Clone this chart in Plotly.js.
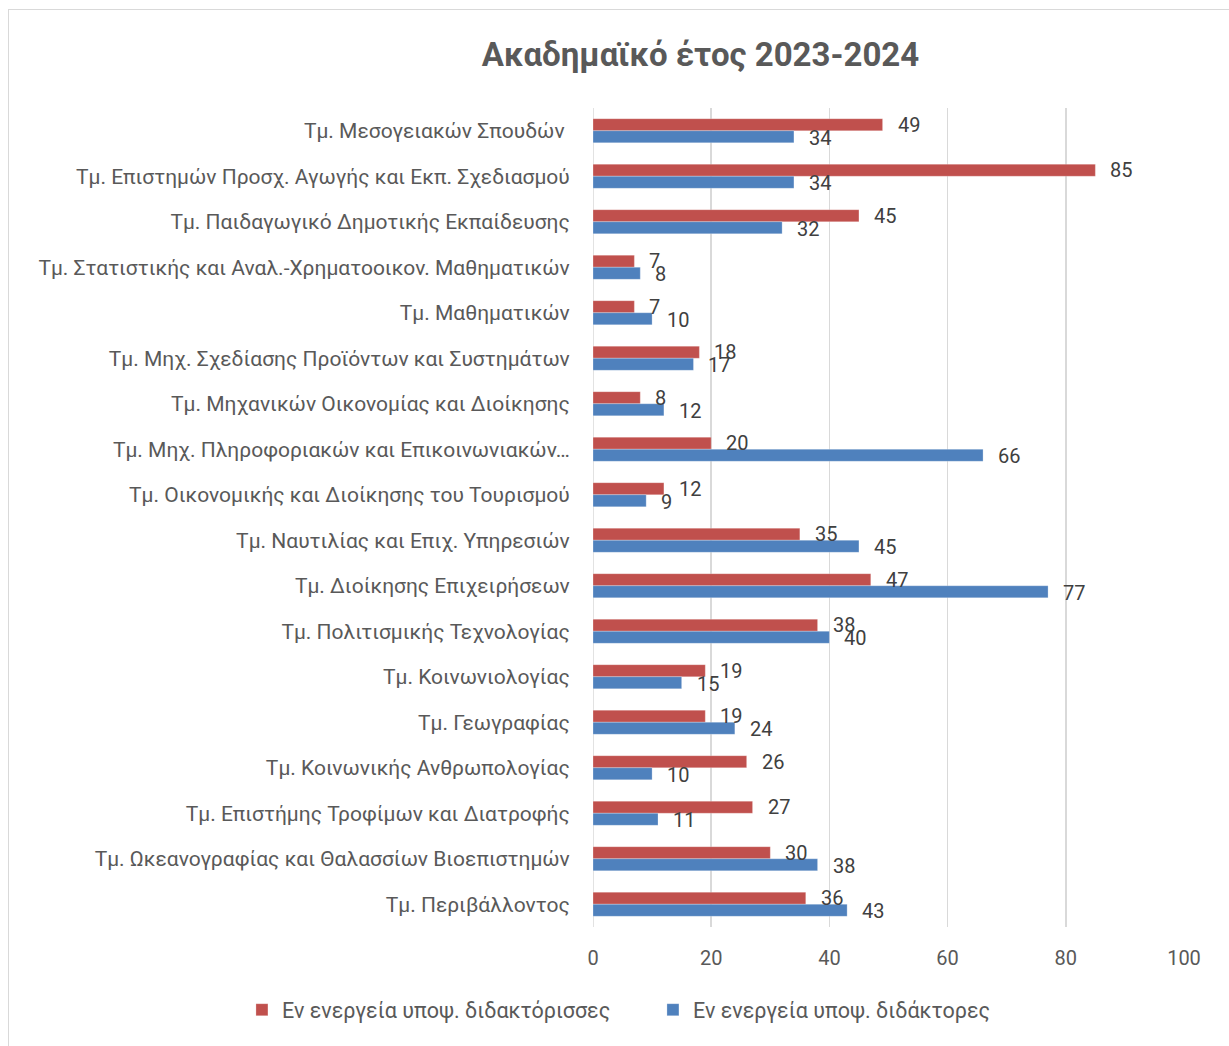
<!DOCTYPE html>
<html>
<head>
<meta charset="utf-8">
<script src="https://cdn.plot.ly/plotly-3.0.1.min.js"></script>
<style>
html,body{margin:0;padding:0;background:#fff;}
#frame{position:absolute;left:8px;top:9px;width:1240px;height:1060px;border:1px solid #d9d9d9;pointer-events:none;z-index:2;}
#chart{position:absolute;left:0;top:0;width:1229px;height:1046px;}
body{overflow:hidden;width:1229px;height:1046px;}
</style>
</head>
<body>
<div id="chart"></div>
<div id="frame"></div>
<script>
const categories = [
  "Τμ. Μεσογειακών Σπουδών\u00a0",
  "Τμ. Επιστημών Προσχ. Αγωγής και Εκπ. Σχεδιασμού",
  "Τμ. Παιδαγωγικό Δημοτικής Εκπαίδευσης",
  "Τμ. Στατιστικής και Αναλ.-Χρηματοοικον. Μαθηματικών",
  "Τμ. Μαθηματικών",
  "Τμ. Μηχ. Σχεδίασης Προϊόντων και Συστημάτων",
  "Τμ. Μηχανικών Οικονομίας και Διοίκησης",
  "Τμ. Μηχ. Πληροφοριακών και Επικοινωνιακών…",
  "Τμ. Οικονομικής και Διοίκησης του Τουρισμού",
  "Τμ. Ναυτιλίας και Επιχ. Υπηρεσιών",
  "Τμ. Διοίκησης Επιχειρήσεων",
  "Τμ. Πολιτισμικής Τεχνολογίας",
  "Τμ. Κοινωνιολογίας",
  "Τμ. Γεωγραφίας",
  "Τμ. Κοινωνικής Ανθρωπολογίας",
  "Τμ. Επιστήμης Τροφίμων και Διατροφής",
  "Τμ. Ωκεανογραφίας και Θαλασσίων Βιοεπιστημών",
  "Τμ. Περιβάλλοντος"
];
const female = [49, 85, 45, 7, 7, 18, 8, 20, 12, 35, 47, 38, 19, 19, 26, 27, 30, 36];
const male   = [34, 34, 32, 8, 10, 17, 12, 66, 9, 45, 77, 40, 15, 24, 10, 11, 38, 43];
const seriesNames = ["Εν ενεργεία υποψ. διδακτόρισσες", "Εν ενεργεία υποψ. διδάκτορες"];
const xTicks = [0, 20, 40, 60, 80, 100];
const chartTitle = "Ακαδημαϊκό έτος 2023-2024";

const FONT = "Roboto, 'Noto Sans', sans-serif";
const GREY = "#595959";
const LABEL = "#404040";
const RED = "#C0504D";
const BLUE = "#4F81BD";

const traces = [
  {type:"bar", orientation:"h", name:seriesNames[0], y:categories, x:female,
   marker:{color:RED, line:{color:"rgba(255,255,255,0.5)", width:0.5}}, hoverinfo:"x"},
  {type:"bar", orientation:"h", name:seriesNames[1], y:categories, x:male,
   marker:{color:BLUE, line:{color:"rgba(255,255,255,0.5)", width:0.5}}, hoverinfo:"x"}
];

const annotations = [];
categories.forEach((c, i) => {
  annotations.push({x:female[i], y:c, xref:"x", yref:"y", text:String(female[i]), showarrow:false,
    xanchor:"left", yanchor:"middle", xshift:13, yshift:6, font:{family:FONT, size:20, color:LABEL}});
  annotations.push({x:male[i], y:c, xref:"x", yref:"y", text:String(male[i]), showarrow:false,
    xanchor:"left", yanchor:"middle", xshift:13, yshift:-7, font:{family:FONT, size:20, color:LABEL}});
});

const layout = {
  width:1229, height:1046,
  paper_bgcolor:"#fff", plot_bgcolor:"#fff",
  margin:{l:593, r:45, t:108, b:119},
  font:{family:FONT, color:GREY, size:20},
  title:{text:chartTitle, xref:"container", yref:"container", x:0.57, y:0.948, xanchor:"center", yanchor:"middle",
    font:{family:FONT, size:33, color:GREY, weight:"bold"}},
  barmode:"group", bargap:0.47, bargroupgap:0,
  xaxis:{range:[0,100], tickvals:xTicks, ticktext:xTicks.map(String), showgrid:true, gridcolor:"#d9d9d9", gridwidth:1.5,
    zeroline:false, showline:false, ticks:"outside", ticklen:13, tickcolor:"rgba(0,0,0,0)",
    tickfont:{family:FONT, size:20, color:GREY}, fixedrange:true},
  yaxis:{type:"category", autorange:"reversed", showgrid:false, zeroline:false, showline:false,
    ticks:"outside", ticklen:18, tickcolor:"rgba(0,0,0,0)", tickfont:{family:FONT, size:21, color:GREY}, fixedrange:true},
  shapes:[{type:"line", xref:"x", yref:"paper", x0:0, x1:0, y0:0, y1:1, line:{color:"#d9d9d9", width:1.5}, layer:"below"}],
  showlegend:true,
  legend:{orientation:"h", xref:"paper", yref:"paper", x:-0.594, y:-0.101, xanchor:"left", yanchor:"middle",
    font:{family:FONT, size:21.5, color:GREY}, itemwidth:30, entrywidth:366, entrywidthmode:"pixels"},
  annotations:annotations
};

Plotly.newPlot("chart", traces, layout, {displayModeBar:false, staticPlot:true});
</script>
</body>
</html>
